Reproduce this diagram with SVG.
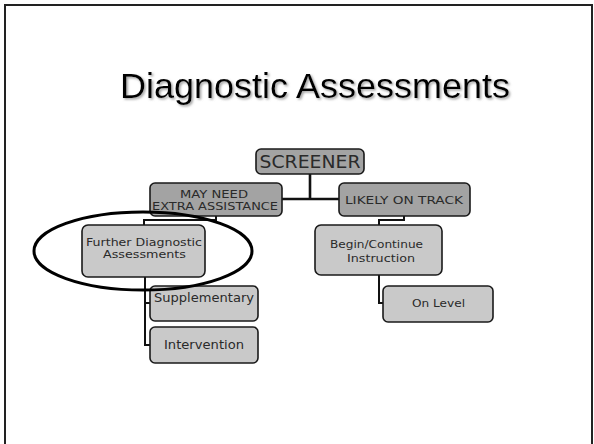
<svg xmlns="http://www.w3.org/2000/svg" width="594" height="444" viewBox="0 0 594 444">
<defs>
<filter id="sh" x="-5%" y="-20%" width="110%" height="150%">
<feDropShadow dx="1.5" dy="1.5" stdDeviation="0.8" flood-color="#888" flood-opacity="0.8"/>
</filter>
</defs>
<style>
.frame{fill:none;stroke:#222;stroke-width:2}
.title{font-family:"Liberation Sans",Arial,sans-serif;font-size:35.6px;fill:#000}
.n1{fill:#a3a3a3;stroke:#1a1a1a;stroke-width:1.6}
.n2{fill:#c9c9c9;stroke:#1a1a1a;stroke-width:1.6}
.t{font-family:"DejaVu Sans",Verdana,sans-serif;fill:#2a2a2a;text-anchor:middle}
.conn{fill:none;stroke:#111;stroke-width:2}
.connb{fill:none;stroke:#111;stroke-width:2.6}
.ring{fill:none;stroke:#000;stroke-width:3}
</style>
<rect width="594" height="444" fill="#fff"/>
<rect class="frame" x="5" y="5" width="587" height="460"/>
<text class="title" x="315" y="98" text-anchor="middle" textLength="390" lengthAdjust="spacingAndGlyphs" filter="url(#sh)">Diagnostic Assessments</text>
<g id="connectors">
<path class="connb" d="M310,174 V199 M281,199 H339"/>
<path class="conn" d="M216,216 V220 H144 V225"/>
<path class="conn" d="M404,216 V220 H379 V225"/>
<path class="conn" d="M145,277 V345 H150 M145,303 H150"/>
<path class="conn" d="M379,275 V303 H383"/>
</g>
<g id="screener">
<rect class="n1" x="256" y="149" width="108" height="25" rx="5"/>
<text class="t" x="310" y="167.5" font-size="17.5" textLength="101" lengthAdjust="spacingAndGlyphs">SCREENER</text>
</g>
<g id="may-need">
<rect class="n1" x="150" y="183" width="132" height="33" rx="5"/>
<text class="t" x="214" y="197.5" font-size="10.5" textLength="68" lengthAdjust="spacingAndGlyphs">MAY NEED</text>
<text class="t" x="215" y="210" font-size="10.5" textLength="126" lengthAdjust="spacingAndGlyphs">EXTRA ASSISTANCE</text>
</g>
<g id="likely">
<rect class="n1" x="339" y="183" width="131" height="33" rx="5"/>
<text class="t" x="404" y="204" font-size="10.5" textLength="118" lengthAdjust="spacingAndGlyphs">LIKELY ON TRACK</text>
</g>
<g id="further">
<rect class="n2" x="82" y="225" width="123" height="52" rx="6"/>
<text class="t" x="144" y="245.5" font-size="10" textLength="116" lengthAdjust="spacingAndGlyphs">Further Diagnostic</text>
<text class="t" x="144.5" y="257.5" font-size="10" textLength="83" lengthAdjust="spacingAndGlyphs">Assessments</text>
</g>
<g id="supplementary">
<rect class="n2" x="150" y="286" width="108" height="35" rx="5"/>
<text class="t" x="204" y="301.5" font-size="12.5" textLength="100" lengthAdjust="spacingAndGlyphs">Supplementary</text>
</g>
<g id="intervention">
<rect class="n2" x="150" y="327" width="108" height="36" rx="5"/>
<text class="t" x="204" y="349" font-size="12.3" textLength="80" lengthAdjust="spacingAndGlyphs">Intervention</text>
</g>
<g id="begin">
<rect class="n2" x="315" y="225" width="127" height="50" rx="6"/>
<text class="t" x="376.5" y="248.3" font-size="10" textLength="93" lengthAdjust="spacingAndGlyphs">Begin/Continue</text>
<text class="t" x="381" y="261.7" font-size="10" textLength="68" lengthAdjust="spacingAndGlyphs">Instruction</text>
</g>
<g id="on-level">
<rect class="n2" x="383" y="286" width="110" height="36" rx="5"/>
<text class="t" x="438.5" y="307" font-size="10.5" textLength="53" lengthAdjust="spacingAndGlyphs">On Level</text>
</g>
<ellipse class="ring" cx="143" cy="251" rx="109" ry="39"/>
</svg>
